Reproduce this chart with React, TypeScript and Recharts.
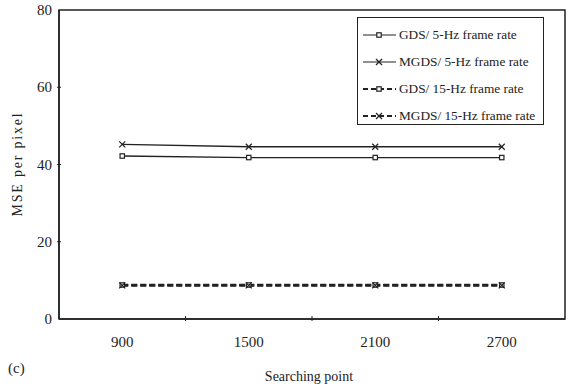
import React from 'react';
import { LineChart, Line, XAxis, YAxis, ReferenceArea } from 'recharts';

const searchPoints = [900, 1500, 2100, 2700];
const gds5 = [42.2, 41.8, 41.8, 41.8];
const mgds5 = [45.2, 44.6, 44.6, 44.6];
const gds15 = [8.8, 8.8, 8.8, 8.8];
const mgds15 = [8.7, 8.7, 8.7, 8.7];
const xTicks = [900, 1200, 1500, 1800, 2100, 2400, 2700];
const yTicks = [0, 20, 40, 60, 80];

const data = searchPoints.map((p, i) => ({
  point: p,
  gds5: gds5[i],
  mgds5: mgds5[i],
  gds15: gds15[i],
  mgds15: mgds15[i],
}));

const series = [
  { key: 'gds5', name: 'GDS/ 5-Hz frame rate', marker: 'square', dashed: false },
  { key: 'mgds5', name: 'MGDS/ 5-Hz frame rate', marker: 'cross', dashed: false },
  { key: 'gds15', name: 'GDS/ 15-Hz frame rate', marker: 'square', dashed: true },
  { key: 'mgds15', name: 'MGDS/ 15-Hz frame rate', marker: 'cross', dashed: true },
];

const INK = '#222';
const FONT = '"Liberation Serif", "Times New Roman", serif';

const Marker = ({ cx, cy, kind }: { cx: number; cy: number; kind: string }) =>
  kind === 'square' ? (
    <rect x={cx - 2.2} y={cy - 2.2} width={4.4} height={4.4} fill="#fff" stroke={INK} strokeWidth={1.2} />
  ) : (
    <g stroke={INK} strokeWidth={1.2}>
      <line x1={cx - 3} y1={cy - 3} x2={cx + 3} y2={cy + 3} />
      <line x1={cx - 3} y1={cy + 3} x2={cx + 3} y2={cy - 3} />
    </g>
  );

const XTick = (props: any) => {
  const { x, y, payload } = props;
  if (searchPoints.includes(payload.value)) {
    return (
      <text x={x} y={y + 26} textAnchor="middle" fontSize={15} fontFamily={FONT} fill={INK}>
        {payload.value}
      </text>
    );
  }
  return <line x1={x} y1={y} x2={x} y2={y - 5} stroke={INK} strokeWidth={1} />;
};

const YTick = (props: any) => {
  const { x, y, payload } = props;
  return (
    <g>
      <text x={x - 5} y={y + 5} textAnchor="end" fontSize={15} fontFamily={FONT} fill={INK}>
        {payload.value}
      </text>
      {payload.value !== 0 && payload.value !== 80 && (
        <line x1={x} y1={y} x2={x + 4} y2={y} stroke={INK} strokeWidth={1} />
      )}
    </g>
  );
};

const LegendBox = () => (
  <div
    style={{
      position: 'absolute',
      left: 357,
      top: 17,
      width: 187,
      height: 108,
      border: `1.5px solid ${INK}`,
      background: '#fff',
      boxSizing: 'border-box',
      fontFamily: FONT,
      fontSize: 13.3,
      color: INK,
    }}
  >
    {series.map((s, i) => (
      <div key={s.key} style={{ position: 'absolute', left: 4, top: 8.5 + i * 27, height: 16, display: 'flex', alignItems: 'center' }}>
        <svg width={35} height={12}>
          <line
            x1={1}
            y1={6}
            x2={34}
            y2={6}
            stroke={INK}
            strokeWidth={s.dashed ? 2.2 : 1.2}
            strokeDasharray={s.dashed ? '5 3' : undefined}
          />
          <Marker cx={17} cy={6} kind={s.marker} />
        </svg>
        <span style={{ marginLeft: 2, whiteSpace: 'nowrap' }}>{s.name}</span>
      </div>
    ))}
  </div>
);

export default function App() {
  return (
    <div style={{ position: 'absolute', left: 0, top: 0, width: 571, height: 388, background: '#fff' }}>
      <LineChart width={571} height={388} data={data} margin={{ top: 10, right: 6, bottom: 39, left: 9 }}>
        <ReferenceArea x1={600} x2={3000} y1={0} y2={80} fill="none" stroke={INK} strokeWidth={1.5} />
        <XAxis
          dataKey="point"
          type="number"
          domain={[600, 3000]}
          ticks={xTicks}
          tick={<XTick />}
          tickLine={false}
          tickSize={0}
          height={30}
          stroke={INK}
          strokeWidth={1.5}
          interval={0}
        />
        <YAxis
          type="number"
          domain={[0, 80]}
          ticks={yTicks}
          tick={<YTick />}
          tickLine={false}
          tickSize={0}
          width={50}
          stroke={INK}
          strokeWidth={1.5}
          interval={0}
        />
        {series.map((s) => (
          <Line
            key={s.key}
            dataKey={s.key}
            stroke={INK}
            strokeWidth={s.dashed ? 2.6 : 1.3}
            strokeDasharray={s.dashed ? '6 3' : undefined}
            dot={(p: any) => <Marker key={`${s.key}-${p.index}`} cx={p.cx} cy={p.cy} kind={s.marker} />}
            activeDot={false}
            isAnimationActive={false}
          />
        ))}
      </LineChart>
      <div
        style={{
          position: 'absolute',
          left: 18,
          top: 164,
          transform: 'translate(-50%, -50%) rotate(-90deg)',
          fontFamily: FONT,
          fontSize: 14,
          letterSpacing: 1.8,
          color: INK,
          whiteSpace: 'nowrap',
        }}
      >
        MSE per pixel
      </div>
      <div style={{ position: 'absolute', left: 8, top: 360, fontFamily: FONT, fontSize: 15, color: INK }}>(c)</div>
      <div
        style={{
          position: 'absolute',
          left: 309,
          top: 369,
          transform: 'translateX(-50%)',
          fontFamily: FONT,
          fontSize: 14,
          color: INK,
          whiteSpace: 'nowrap',
        }}
      >
        Searching point
      </div>
      <LegendBox />
    </div>
  );
}
